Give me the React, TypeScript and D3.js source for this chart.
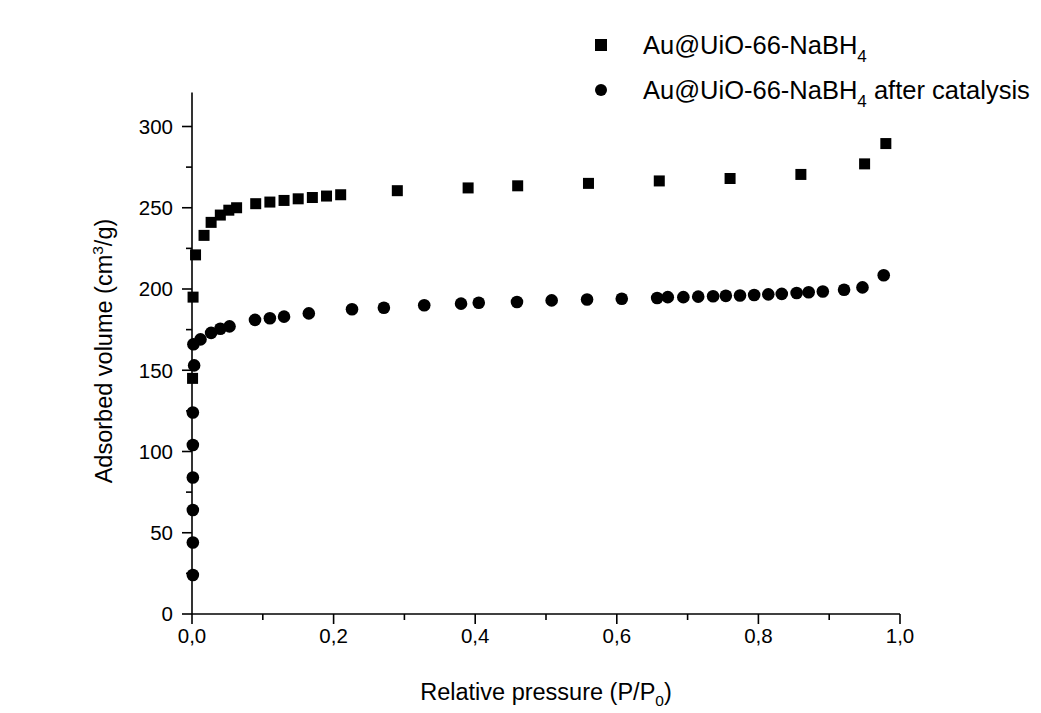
import React from "react";
import * as d3 from "d3";

const sampleP: number[] = [0.0008, 0.0015, 0.005, 0.017, 0.027, 0.04, 0.052, 0.063, 0.09, 0.11, 0.13, 0.15, 0.17, 0.19, 0.21, 0.29, 0.39, 0.46, 0.56, 0.66, 0.76, 0.86, 0.95, 0.98];
const sampleV: number[] = [145, 195, 221, 233, 241, 245.5, 248.5, 250, 252.5, 253.5, 254.5, 255.5, 256.3, 257.2, 258, 260.5, 262.2, 263.5, 265, 266.5, 268, 270.5, 277, 289.5];

const afterP: number[] = [0.0012, 0.0012, 0.0012, 0.0012, 0.0012, 0.0012, 0.003, 0.002, 0.012, 0.027, 0.04, 0.053, 0.089, 0.11, 0.13, 0.165, 0.226, 0.271, 0.328, 0.38, 0.405, 0.459, 0.508, 0.558, 0.607, 0.657, 0.672, 0.694, 0.715, 0.736, 0.754, 0.774, 0.794, 0.814, 0.833, 0.854, 0.871, 0.891, 0.921, 0.947, 0.977];
const afterV: number[] = [24, 44, 64, 84, 104, 124, 153, 166, 169, 173, 175.5, 177, 181, 182, 183, 185, 187.5, 188.5, 190, 191, 191.5, 192, 193, 193.5, 194, 194.5, 195, 195, 195.3, 195.5, 195.8, 196, 196.3, 196.7, 197, 197.5, 198, 198.5, 199.5, 201, 208.5];

const xMajor: number[] = [0, 0.2, 0.4, 0.6, 0.8, 1.0];
const xMinor: number[] = [0.1, 0.3, 0.5, 0.7, 0.9];
const yMajor: number[] = [0, 50, 100, 150, 200, 250, 300];
const yMinor: number[] = [25, 75, 125, 175, 225, 275];

const seriesNames: string[] = ["Au@UiO-66-NaBH", "Au@UiO-66-NaBH"];

export default function App() {
  const x = d3.scaleLinear().domain([0, 1]).range([192, 900]);
  const y = d3.scaleLinear().domain([0, 300]).range([614, 126.5]);
  const fmt = (v: number) => d3.format(".1f")(v).replace(".", ",");
  const font = "'Liberation Sans', Arial, sans-serif";
  const sq = 11;
  return (
    <svg width={1041} height={713} style={{ position: "absolute", left: 0, top: 0, background: "#fff" }} fontFamily={font}>
      <rect x={0} y={0} width={1041} height={713} fill="#fff" />
      {/* axes */}
      <line x1={x(0)} x2={x(0)} y1={y(321)} y2={y(0)} stroke="#000" strokeWidth={1.6} />
      <line x1={x(0)} x2={x(1)} y1={y(0)} y2={y(0)} stroke="#000" strokeWidth={1.6} />
      {yMajor.map((v) => (
        <g key={"ym" + v}>
          <line x1={x(0) - 10} x2={x(0)} y1={y(v)} y2={y(v)} stroke="#000" strokeWidth={1.6} />
          <text x={x(0) - 19} y={y(v)} dy="0.36em" textAnchor="end" fontSize={20.5}>{v}</text>
        </g>
      ))}
      {yMinor.map((v) => (
        <line key={"yn" + v} x1={x(0) - 6} x2={x(0)} y1={y(v)} y2={y(v)} stroke="#000" strokeWidth={1.6} />
      ))}
      {xMajor.map((v) => (
        <g key={"xm" + v}>
          <line x1={x(v)} x2={x(v)} y1={y(0)} y2={y(0) + 10} stroke="#000" strokeWidth={1.6} />
          <text x={x(v)} y={y(0) + 22} dy="0.36em" textAnchor="middle" fontSize={20.5}>{fmt(v)}</text>
        </g>
      ))}
      {xMinor.map((v) => (
        <line key={"xn" + v} x1={x(v)} x2={x(v)} y1={y(0)} y2={y(0) + 6} stroke="#000" strokeWidth={1.6} />
      ))}
      {/* data */}
      {sampleP.map((p, i) => (
        <rect key={"s" + i} x={x(p) - sq / 2} y={y(sampleV[i]) - sq / 2} width={sq} height={sq} fill="#000" />
      ))}
      {afterP.map((p, i) => (
        <circle key={"c" + i} cx={x(p)} cy={y(afterV[i])} r={6.3} fill="#000" />
      ))}
      {/* axis titles */}
      <text x={546} y={700} textAnchor="middle" fontSize={23.5}>
        Relative pressure (P/P<tspan fontSize={15.5} dy={6}>0</tspan><tspan dy={-6}>)</tspan>
      </text>
      <text transform="translate(112,351) rotate(-90)" textAnchor="middle" fontSize={23.5}>
        Adsorbed volume (cm<tspan fontSize={15.5} dy={-9}>3</tspan><tspan dy={9}>/g)</tspan>
      </text>
      {/* legend */}
      <rect x={601 - 6} y={45 - 6} width={12} height={12} fill="#000" />
      <text x={643} y={45} dy="0.36em" fontSize={25.5}>
        {seriesNames[0]}<tspan fontSize={17} dy={8}>4</tspan>
      </text>
      <circle cx={601} cy={90} r={6} fill="#000" />
      <text x={643} y={90} dy="0.36em" fontSize={25.5}>
        {seriesNames[1]}<tspan fontSize={17} dy={8}>4</tspan><tspan dy={-8}> after catalysis</tspan>
      </text>
    </svg>
  );
}
